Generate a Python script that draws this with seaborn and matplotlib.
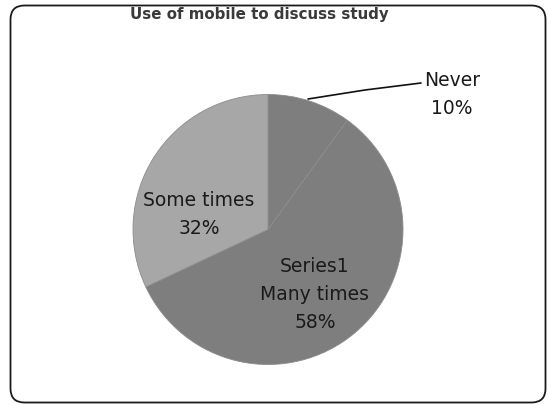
import matplotlib
matplotlib.use("Agg")
import matplotlib.pyplot as plt
import seaborn as sns
from matplotlib.patches import FancyBboxPatch

# Survey answers: how often the mobile is used to discuss study
categories = ["Never", "Many times", "Some times"]
shares = [10, 58, 32]
series_name = "Series1"
title = "Use of mobile to discuss study"

sns.set_theme(style="white")
plt.rcParams["font.family"] = ["DejaVu Sans"]

slice_colors = ["#7e7e7e", "#7e7e7e", "#a7a7a7"]

W, H = 548, 405
fig = plt.figure(figsize=(W / 100, H / 100), dpi=100)
fig.patch.set_facecolor("white")

# Pie area
left, right, top, bottom = 133, 403, 93, 366
ax = fig.add_axes([left / W, 1 - bottom / H, (right - left) / W, (bottom - top) / H])
wedges, _ = ax.pie(shares, colors=slice_colors, startangle=90, counterclock=False,
                   wedgeprops=dict(edgecolor="#8c8c8c", linewidth=0.6))
ax.set_aspect("equal")
ax.set_xlim(-1, 1)
ax.set_ylim(-1, 1)

# Overlay layer in pixel units: rounded border, title and slice labels
frame = fig.add_axes([0, 0, 1, 1])
frame.set_xlim(0, W)
frame.set_ylim(H, 0)
frame.axis("off")
frame.add_patch(FancyBboxPatch((10.5, 5.5), 535, 397,
                               boxstyle="round,pad=0,rounding_size=14",
                               facecolor="none", edgecolor="#1a1a1a", lw=1.3))
frame.text(259, 15, title, ha="center", va="center", fontsize=10.8,
           fontweight="bold", color="#3a3a3a")

label_font = dict(fontsize=13.5, color="#1a1a1a", ha="center", va="center",
                  linespacing=1.6)

pct = [f"{v}%" for v in shares]

# Outside label with leader line for the small slice
frame.text(452, 95, f"{categories[0]}\n{pct[0]}", **label_font)
frame.plot([308, 365, 421], [99, 90, 83], color="#111111", lw=1.2)

frame.text(199, 215, f"{categories[2]}\n{pct[2]}", **label_font)
frame.text(315, 295, f"{series_name}\n{categories[1]}\n{pct[1]}", **label_font)

fig.savefig("out.png", dpi=100, facecolor="white")
